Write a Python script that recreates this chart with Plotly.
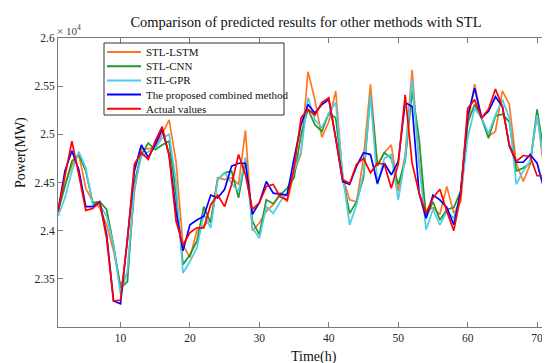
import plotly.graph_objects as go

# ---------------- data (power in units of 10^4 MW) ----------------
hours = list(range(1, 73))

stl_lstm = [2.420, 2.448, 2.468, 2.479, 2.444, 2.430, 2.424, 2.406, 2.379, 2.344,
            2.356, 2.440, 2.485, 2.485, 2.487, 2.500, 2.515, 2.472, 2.385, 2.372,
            2.400, 2.406, 2.411, 2.455, 2.453, 2.455, 2.448, 2.504, 2.400, 2.408,
            2.420, 2.427, 2.439, 2.430, 2.460, 2.480, 2.565, 2.536, 2.497, 2.513,
            2.545, 2.455, 2.432, 2.430, 2.475, 2.552, 2.469, 2.481, 2.489, 2.441,
            2.479, 2.567, 2.470, 2.420, 2.424, 2.417, 2.446, 2.418, 2.430, 2.510,
            2.552, 2.517, 2.498, 2.503, 2.545, 2.531, 2.470, 2.451, 2.469, 2.522,
            2.463, 2.460]

stl_cnn = [2.420, 2.446, 2.472, 2.479, 2.462, 2.429, 2.430, 2.422, 2.385, 2.340,
           2.347, 2.450, 2.479, 2.491, 2.484, 2.489, 2.493, 2.437, 2.365, 2.375,
           2.389, 2.425, 2.408, 2.453, 2.460, 2.462, 2.434, 2.474, 2.410, 2.396,
           2.432, 2.428, 2.437, 2.444, 2.455, 2.500, 2.526, 2.510, 2.503, 2.522,
           2.517, 2.455, 2.418, 2.430, 2.455, 2.541, 2.467, 2.481, 2.475, 2.448,
           2.472, 2.545, 2.496, 2.413, 2.430, 2.411, 2.422, 2.424, 2.441, 2.512,
           2.531, 2.517, 2.496, 2.519, 2.521, 2.513, 2.462, 2.465, 2.470, 2.526,
           2.479, 2.469]

stl_gpr = [2.415, 2.434, 2.462, 2.482, 2.465, 2.427, 2.427, 2.415, 2.385, 2.334,
           2.358, 2.445, 2.477, 2.482, 2.486, 2.496, 2.500, 2.451, 2.356, 2.368,
           2.382, 2.417, 2.403, 2.453, 2.460, 2.449, 2.441, 2.476, 2.403, 2.392,
           2.425, 2.418, 2.430, 2.439, 2.462, 2.482, 2.538, 2.515, 2.507, 2.522,
           2.533, 2.458, 2.406, 2.427, 2.460, 2.541, 2.448, 2.475, 2.479, 2.432,
           2.475, 2.557, 2.470, 2.401, 2.422, 2.406, 2.420, 2.413, 2.437, 2.496,
           2.527, 2.517, 2.501, 2.520, 2.536, 2.517, 2.448, 2.462, 2.472, 2.520,
           2.469, 2.465]

proposed = [2.420, 2.462, 2.483, 2.463, 2.425, 2.425, 2.430, 2.396, 2.327, 2.324,
            2.392, 2.462, 2.489, 2.476, 2.489, 2.505, 2.479, 2.420, 2.379, 2.406,
            2.411, 2.415, 2.437, 2.434, 2.443, 2.467, 2.470, 2.470, 2.417, 2.429,
            2.451, 2.439, 2.438, 2.437, 2.475, 2.510, 2.531, 2.522, 2.531, 2.536,
            2.496, 2.451, 2.448, 2.467, 2.481, 2.479, 2.449, 2.470, 2.458, 2.472,
            2.533, 2.529, 2.439, 2.413, 2.437, 2.432, 2.424, 2.406, 2.441, 2.519,
            2.548, 2.517, 2.524, 2.539, 2.529, 2.488, 2.471, 2.471, 2.479, 2.470,
            2.443, 2.451]

actual = [2.420, 2.458, 2.493, 2.458, 2.421, 2.423, 2.430, 2.392, 2.327, 2.328,
          2.390, 2.469, 2.481, 2.474, 2.493, 2.508, 2.478, 2.410, 2.385, 2.398,
          2.403, 2.403, 2.427, 2.437, 2.425, 2.448, 2.479, 2.458, 2.422, 2.429,
          2.446, 2.448, 2.435, 2.432, 2.465, 2.517, 2.526, 2.520, 2.533, 2.538,
          2.496, 2.453, 2.449, 2.469, 2.475, 2.460, 2.470, 2.469, 2.444, 2.469,
          2.541, 2.470, 2.439, 2.418, 2.434, 2.443, 2.420, 2.400, 2.437, 2.527,
          2.536, 2.517, 2.526, 2.547, 2.529, 2.489, 2.472, 2.478, 2.477, 2.457,
          2.457, 2.455]

series_names = ["STL-LSTM", "STL-CNN", "STL-GPR",
                "The proposed combined method", "Actual values"]
series_values = [stl_lstm, stl_cnn, stl_gpr, proposed, actual]
series_colors = ["#FF7722", "#22962A", "#4CCDE6", "#0000FF", "#FF0000"]

x_ticks = [10, 20, 30, 40, 50, 60, 70]
y_ticks = [2.35, 2.4, 2.45, 2.5, 2.55, 2.6]
y_tick_text = ["2.35", "2.4", "2.45", "2.5", "2.55", "2.6"]

# ---------------- layout geometry (pixels) ----------------
W, H = 550, 363
L, R, T, B = 50, 7, 30, 44
PW, PH = W - L - R, H - T - B
FONT = "Liberation Serif, Times New Roman, serif"
AXC = "#7a7a7a"
TXC = "#262626"


def px(xp):
    return (xp - L) / PW


def py(yp):
    return (H - B - yp) / PH


fig = go.Figure()
for name, vals, col in zip(series_names, series_values, series_colors):
    fig.add_trace(go.Scatter(x=hours, y=vals, mode="lines", name=name,
                             line=dict(color=col, width=1.7),
                             showlegend=False))

shapes = []
annotations = []

# manual legend (MATLAB-style compact box)
box_l, box_r, box_t, box_b = 96, 276, 35, 107
shapes.append(dict(type="rect", xref="paper", yref="paper",
                   x0=px(box_l), x1=px(box_r), y0=py(box_b), y1=py(box_t),
                   line=dict(color="#333333", width=1), fillcolor="white"))
row_y = [44, 58.2, 72.4, 86.6, 100.8]
for name, col, ry in zip(series_names, series_colors, row_y):
    shapes.append(dict(type="line", xref="paper", yref="paper",
                       x0=px(99), x1=px(133), y0=py(ry), y1=py(ry),
                       line=dict(color=col, width=2)))
    annotations.append(dict(xref="paper", yref="paper", x=px(136), y=py(ry),
                            text=name, showarrow=False, xanchor="left",
                            yanchor="middle",
                            font=dict(family=FONT, size=11, color="#111")))

# exponent label
annotations.append(dict(xref="paper", yref="paper", x=px(47), y=py(22),
                        text="× 10<sup>4</sup>", showarrow=False,
                        xanchor="left", yanchor="middle",
                        font=dict(family=FONT, size=11, color="#444")))
# axis titles
annotations.append(dict(xref="paper", yref="paper", x=px(306), y=py(349),
                        text="Time(h)", showarrow=False, xanchor="center",
                        yanchor="middle", borderpad=0,
                        font=dict(family=FONT, size=14, color="#111")))
annotations.append(dict(xref="paper", yref="paper", x=px(13), y=py(145),
                        text="Power(MW)", showarrow=False, xanchor="center",
                        yanchor="middle", textangle=-90, borderpad=0,
                        font=dict(family=FONT, size=14, color="#111")))

fig.update_layout(
    width=W, height=H,
    margin=dict(l=L, r=R, t=T, b=B),
    paper_bgcolor="white", plot_bgcolor="white",
    title=dict(text="Comparison of predicted results for other methods with STL",
               x=px(298), xref="paper", xanchor="center",
               y=1 - 14 / H, yanchor="middle",
               font=dict(family=FONT, size=14.5, color="#111")),
    shapes=shapes, annotations=annotations,
    showlegend=False,
)
fig.update_xaxes(range=[1, 72], tickvals=x_ticks, ticks="inside", ticklen=5,
                 tickcolor=AXC, showline=True, linecolor=AXC, linewidth=1,
                 mirror="ticks", showgrid=False, zeroline=False,
                 tickfont=dict(family=FONT, size=11.5, color=TXC))
fig.update_yaxes(range=[2.3, 2.6], tickvals=y_ticks, ticktext=y_tick_text,
                 ticks="inside", ticklen=5,
                 tickcolor=AXC, showline=True, linecolor=AXC, linewidth=1,
                 mirror="ticks", showgrid=False, zeroline=False,
                 tickfont=dict(family=FONT, size=11.5, color=TXC))

fig.write_html("out.html")
